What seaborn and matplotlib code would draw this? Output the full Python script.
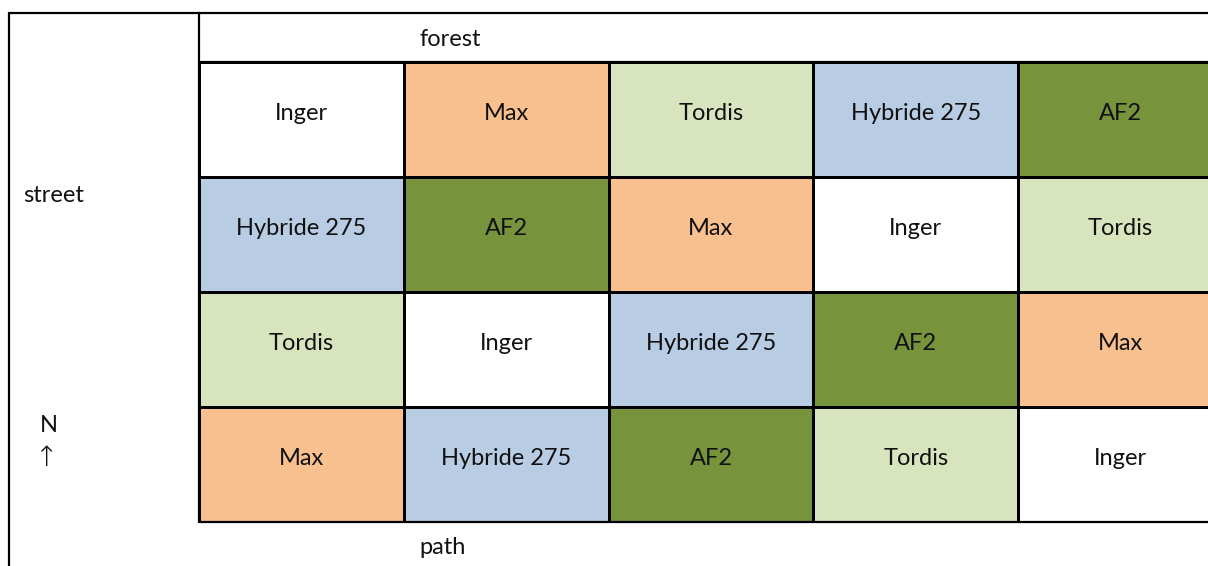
import numpy as np
import pandas as pd
import matplotlib
matplotlib.use('Agg')
from matplotlib import pyplot as plt
from matplotlib.colors import ListedColormap
import seaborn as sns

# field plan: rows from forest (top) to path (bottom), 5 columns
row1 = ['Inger', 'Max', 'Tordis', 'Hybride 275', 'AF2']
row2 = ['Hybride 275', 'AF2', 'Max', 'Inger', 'Tordis']
row3 = ['Tordis', 'Inger', 'Hybride 275', 'AF2', 'Max']
row4 = ['Max', 'Hybride 275', 'AF2', 'Tordis', 'Inger']
varieties = ['Inger', 'Max', 'Tordis', 'Hybride 275', 'AF2']
variety_colors = ['#FFFFFF', '#F8BF8F', '#D8E4BD', '#B8CCE4', '#77933C']

sns.set_style('white')
plt.rcParams['font.family'] = ['Lato', 'DejaVu Sans']

names = pd.DataFrame([row1, row2, row3, row4])
codes = names.apply(lambda col: col.map(varieties.index))

W, H = 1208, 566
fs = 17
fig = plt.figure(figsize=(W / 100, H / 100), dpi=100)

# heatmap placed in pixel box x 199..1223, y 62..522
x0, x1, y0, y1 = 199, 1223, 62, 522
ax = fig.add_axes([x0 / W, 1 - y1 / H, (x1 - x0) / W, (y1 - y0) / H])
sns.heatmap(codes, ax=ax, cmap=ListedColormap(variety_colors), vmin=-0.5, vmax=4.5,
            annot=names.values, fmt='', cbar=False, linewidths=2.0, linecolor='black',
            annot_kws={'fontsize': fs, 'color': '#111111'})
# text sits a little above the cell middle, like in the spreadsheet
for t in ax.texts:
    t.set_y(t.get_position()[1] - 0.05)
ax.set_xticks([])
ax.set_yticks([])
for s in ax.spines.values():
    s.set_visible(False)

# overlay for the frame lines and labels, in pixel coordinates
ov = fig.add_axes([0, 0, 1, 1])
ov.set_xlim(0, W)
ov.set_ylim(H, 0)
ov.axis('off')
ov.patch.set_alpha(0)
lw = 1.6
ov.plot([9, W + 5], [13, 13], color='black', lw=lw, clip_on=False)
ov.plot([9, 9], [13, H + 5], color='black', lw=lw, clip_on=False)
ov.plot([199, 199], [13, 522], color='black', lw=lw, clip_on=False)
ov.plot([199, W + 5], [62, 62], color='black', lw=lw, clip_on=False)
ov.plot([199, W + 5], [522, 522], color='black', lw=lw, clip_on=False)

ov.text(419, 40, 'forest', fontsize=fs, ha='left', va='center', color='#111111')
ov.text(419, 548, 'path', fontsize=fs, ha='left', va='center', color='#111111')
ov.text(23, 196, 'street', fontsize=fs, ha='left', va='center', color='#111111')
ov.text(49, 426, 'N', fontsize=fs, ha='center', va='center', color='#111111')
ov.text(47, 458, '↑', fontsize=fs + 3, ha='center', va='center', color='#111111',
        family=['DejaVu Sans'], fontweight='light')

fig.savefig('out.png', dpi=100)
